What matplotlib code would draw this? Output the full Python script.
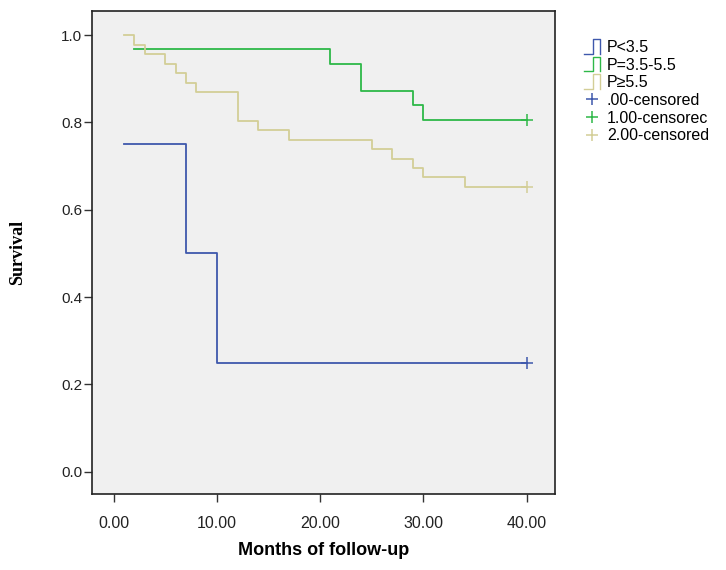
import numpy as np
import matplotlib
matplotlib.use("Agg")
import matplotlib.pyplot as plt
from matplotlib.lines import Line2D
from matplotlib.legend_handler import HandlerBase

# ── data ──────────────────────────────────────────────────────────────────────
blue_t = [1, 7, 10, 40]
blue_s = [0.75, 0.50, 0.25, 0.25]

green_t = [2, 21, 24, 29, 30, 40]
green_s = [0.968, 0.935, 0.871, 0.839, 0.806, 0.806]

tan_t = [1, 2, 3, 5, 6, 7, 8, 12, 14, 17, 25, 27, 29, 30, 34, 40]
tan_s = [1.0, 0.978, 0.957, 0.935, 0.913, 0.891, 0.870, 0.804, 0.783,
         0.761, 0.739, 0.717, 0.696, 0.674, 0.652, 0.652]

group_labels = ["P<3.5", "P=3.5-5.5", "P\u22655.5"]
censor_labels = [".00-censored", "1.00-censorec", "2.00-censored"]
x_ticks = [0, 10, 20, 30, 40]
y_ticks = [0.0, 0.2, 0.4, 0.6, 0.8, 1.0]

BLUE = "#3E58AC"
GREEN = "#2EB848"
TAN = "#D3CE97"
BG = "#F0F0F0"

plt.rcParams["font.family"] = ["Liberation Sans", "DejaVu Sans"]


class StepHandler(HandlerBase):
    def create_artists(self, legend, orig_handle, xdescent, ydescent,
                       width, height, fontsize, trans):
        x0, y0 = -xdescent, -ydescent - 0.1 * height
        h = 1.2 * height
        xs = [x0, x0 + 0.55 * width, x0 + 0.55 * width, x0 + width, x0 + width]
        ys = [y0, y0, y0 + h, y0 + h, y0]
        ln = Line2D(xs, ys, color=orig_handle.get_color(), lw=1.0)
        ln.set_transform(trans)
        return [ln]


fig = plt.figure(figsize=(7.26, 5.70), dpi=100)
ax = fig.add_axes([0.1267, 0.1333, 0.6378, 0.8479])
ax.set_facecolor(BG)

series = [(blue_t, blue_s, BLUE), (green_t, green_s, GREEN), (tan_t, tan_s, TAN)]
step_handles = []
cens_handles = []
for t, s, c in series:
    h, = ax.step(t, s, where="post", color=c, lw=1.3)
    step_handles.append(h)
    m, = ax.plot([t[-1]], [s[-1]], linestyle="none", marker="+", color=c,
                 markersize=8, markeredgewidth=1.1)
    cens_handles.append(m)

ax.set_xlim(-2.1, 42.75)
ax.set_ylim(-0.051, 1.056)
ax.set_xticks(x_ticks)
ax.set_xticklabels([f"{v:.2f}" for v in x_ticks], fontsize=11.5, color="#222222")
ax.set_yticks(y_ticks)
ax.set_yticklabels([f"{v:.1f}" for v in y_ticks], fontsize=11, color="#222222")
ax.tick_params(direction="out", length=6, width=1.0, color="#333333")
ax.tick_params(axis="x", pad=10)
ax.tick_params(axis="y", pad=1)
for sp in ax.spines.values():
    sp.set_linewidth(1.2)
    sp.set_color("#222222")

ax.set_xlabel("Months of follow-up", fontsize=13, fontweight="bold", labelpad=8)
ax.set_ylabel("Survival", fontsize=13, fontweight="bold",
              family=["Liberation Serif", "DejaVu Serif"])
ax.yaxis.set_label_coords(-0.142, 0.5)

fig.legend(step_handles + cens_handles, group_labels + censor_labels,
           handler_map={h: StepHandler() for h in step_handles},
           loc="upper left", bbox_to_anchor=(0.805, 0.93),
           frameon=False, fontsize=11.5, handlelength=0.95, handleheight=0.8,
           handletextpad=0.45, labelspacing=0.17, borderpad=0, borderaxespad=0)

fig.savefig("out.png", dpi=100)
